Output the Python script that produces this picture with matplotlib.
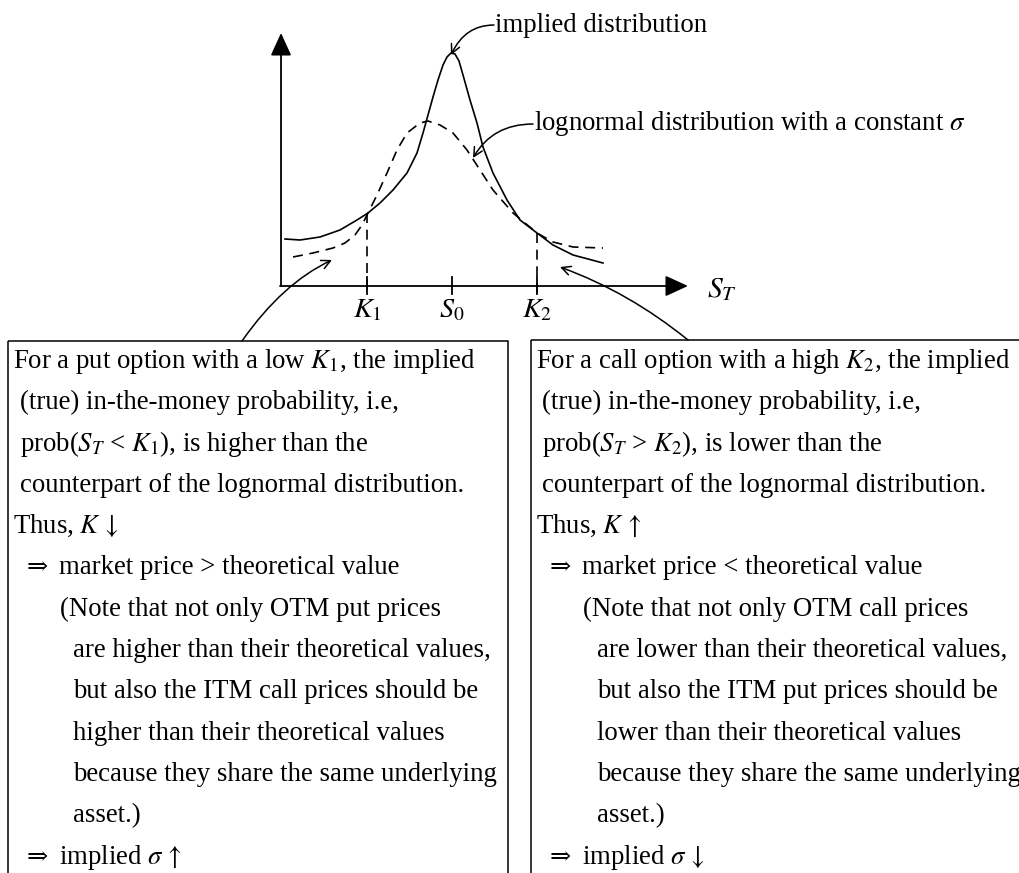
import numpy as np
import matplotlib
matplotlib.use("Agg")
import matplotlib.pyplot as plt
from matplotlib.patches import Rectangle

plt.rcParams['font.family'] = ['Liberation Serif', 'DejaVu Serif']
plt.rcParams['mathtext.fontset'] = 'stix'

# curve points (pixel coords, y downwards)
implied_x = [285, 300, 320, 340, 357, 368, 380, 393, 407, 417, 423, 428, 433, 438, 443, 447, 451,
             455, 459, 463, 470, 477, 483, 493, 507, 520, 537, 553, 573, 603]
implied_y = [239, 240, 237, 230, 220, 213, 203, 190, 173, 153, 133, 115, 97, 80, 65, 57, 53,
             54, 61, 75, 100, 123, 147, 173, 200, 220, 233, 245, 255, 263]
lognorm_x = [293, 313, 333, 345, 355, 362, 368, 377, 387, 397, 407, 420, 428, 440, 453, 467, 480,
             493, 513, 537, 553, 573, 603]
lognorm_y = [257, 253, 248, 243, 235, 225, 213, 195, 173, 150, 133, 123, 121, 125, 133, 150, 170,
             190, 213, 233, 242, 247, 248]

tick_x = [367, 452, 537]
tick_labels = [r'$K_1$', r'$S_0$', r'$K_{\mathit{2}}$']
cross_y = [213, None, 233]

left_lines = [
    r"For a put option with a low $K_1$, the implied",
    r"(true) in-the-money probability, i.e,",
    r"prob($S_T$ < $K_1$), is higher than the",
    r"counterpart of the lognormal distribution.",
    r"Thus, $K\,\downarrow$",
    "\u21d2 market price > theoretical value",
    r"(Note that not only OTM put prices",
    r"are higher than their theoretical values,",
    r"but also the ITM call prices should be",
    r"higher than their theoretical values",
    r"because they share the same underlying",
    r"asset.)",
    "\u21d2 implied $\\sigma\\,\\uparrow$",
]
right_lines = [
    r"For a call option with a high $K_2$, the implied",
    r"(true) in-the-money probability, i.e,",
    r"prob($S_T$ > $K_2$), is lower than the",
    r"counterpart of the lognormal distribution.",
    r"Thus, $K\,\uparrow$",
    "\u21d2 market price < theoretical value",
    r"(Note that not only OTM call prices",
    r"are lower than their theoretical values,",
    r"but also the ITM put prices should be",
    r"lower than their theoretical values",
    r"because they share the same underlying",
    r"asset.)",
    "\u21d2 implied $\\sigma\\,\\downarrow$",
]
left_indent = [13, 20, 20, 20, 13, 27, 60, 73, 73, 73, 73, 73, 27]
right_indent = [536, 542, 542, 542, 536, 550, 583, 597, 597, 597, 597, 597, 550]

fig = plt.figure(figsize=(10.19, 8.73), dpi=100)
ax = fig.add_axes([0, 0, 1, 1])
ax.set_xlim(0, 1019)
ax.set_ylim(873, 0)
ax.axis('off')

fs = 19.3
lw = 1.3

# axes with filled arrow heads
ax.annotate('', xy=(281, 33), xytext=(281, 286),
            arrowprops=dict(arrowstyle='-|>,head_length=0.7,head_width=0.32', mutation_scale=20,
                            color='k', lw=lw, shrinkA=0, shrinkB=0))
ax.annotate('', xy=(688, 286), xytext=(280, 286),
            arrowprops=dict(arrowstyle='-|>,head_length=0.7,head_width=0.32', mutation_scale=20,
                            color='k', lw=lw, shrinkA=0, shrinkB=0))
ax.text(707, 290, r'$S_T$', fontsize=fs + 2, va='center', ha='left')

# curves
ax.plot(implied_x, implied_y, color='k', lw=1.2, solid_joinstyle='round')
ax.plot(lognorm_x, lognorm_y, color='k', lw=1.2, dashes=(6, 4))

# ticks and dashed drop lines
for x, lab, cy in zip(tick_x, tick_labels, cross_y):
    ax.plot([x, x], [277, 294], color='k', lw=lw)
    if cy is not None:
        ax.plot([x, x], [cy, 294], color='k', lw=1.2, dashes=(6, 4))
    ax.text(x, 311, lab, fontsize=fs + 1, ha='center', va='center')

# labels with curved arrows
ax.text(495, 25, 'implied distribution', fontsize=fs, va='center', ha='left')
ax.annotate('', xy=(451, 55), xytext=(494, 25),
            arrowprops=dict(arrowstyle='->', mutation_scale=16, color='k', lw=1.1,
                            shrinkA=0, shrinkB=0, connectionstyle='angle3,angleA=0,angleB=65'))
ax.text(534, 123, r'lognormal distribution with a constant $\sigma$', fontsize=fs, va='center', ha='left')
ax.annotate('', xy=(473, 158), xytext=(533, 124),
            arrowprops=dict(arrowstyle='->', mutation_scale=16, color='k', lw=1.1,
                            shrinkA=0, shrinkB=0, connectionstyle='angle3,angleA=0,angleB=60'))

ax.annotate('', xy=(332, 260), xytext=(242, 341),
            arrowprops=dict(arrowstyle='->', mutation_scale=16, color='k', lw=1.1,
                            shrinkA=0, shrinkB=0, connectionstyle='angle3,angleA=55,angleB=25'))
ax.annotate('', xy=(560, 267), xytext=(688, 340),
            arrowprops=dict(arrowstyle='->', mutation_scale=16, color='k', lw=1.1,
                            shrinkA=0, shrinkB=0, connectionstyle='angle3,angleA=141,angleB=160'))

# boxes (cut off by the bottom edge)
ax.add_patch(Rectangle((8, 341), 500, 600, fill=False, ec='k', lw=1.1))
ax.add_patch(Rectangle((531, 340), 600, 600, fill=False, ec='k', lw=1.1))


def put_line(x, y, s):
    # the double arrow is drawn on its own so that the font fallback works
    if s.startswith('\u21d2 '):
        ax.text(x, y, '\u21d2', fontsize=fs - 1, va='baseline', ha='left')
        ax.text(x + 32, y, s[2:], fontsize=fs, va='baseline', ha='left')
    else:
        ax.text(x, y, s, fontsize=fs, va='baseline', ha='left')


for i, (s, x) in enumerate(zip(left_lines, left_indent)):
    put_line(x, 368 + i * 41.3, s)
for i, (s, x) in enumerate(zip(right_lines, right_indent)):
    put_line(x, 368 + i * 41.3, s)

fig.savefig('out.png', dpi=100)
